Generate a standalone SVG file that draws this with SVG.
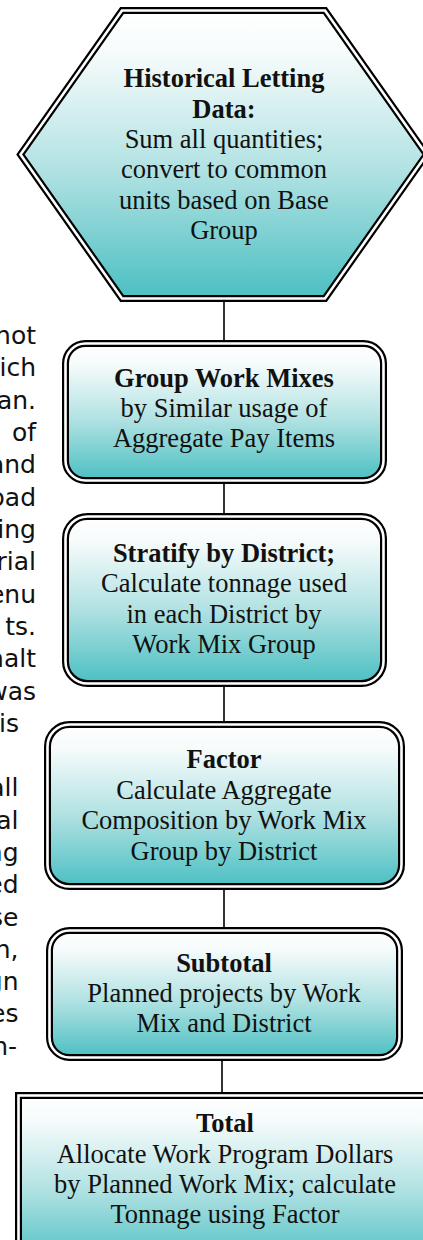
<svg xmlns="http://www.w3.org/2000/svg" width="423" height="1240" viewBox="0 0 423 1240">
<defs>
<linearGradient id="g" x1="0" y1="0" x2="0" y2="1">
<stop offset="0" stop-color="#ffffff"/>
<stop offset="0.15" stop-color="#f6fbfb"/>
<stop offset="0.55" stop-color="#b2e2e3"/>
<stop offset="1" stop-color="#4bbfc2"/>
</linearGradient>
<style>
.shape{fill:url(#g);stroke:#000;stroke-width:7}
.gap{fill:none;stroke:#fff;stroke-width:2.6}
.t{font-family:"Liberation Serif","Times New Roman",serif;font-size:26.5px;fill:#111;text-anchor:middle}
.b{font-weight:bold}
.side{font-family:"DejaVu Sans",Verdana,sans-serif;font-size:25px;fill:#111;text-anchor:end}
.conn{stroke:#000;stroke-width:1.6;fill:none}
</style>
</defs>
<rect width="423" height="1240" fill="#fff"/>
<g id="side-text" class="side">
<text x="36" y="344">not</text>
<text x="36" y="376">ich</text>
<text x="36" y="408.5">an.</text>
<text x="36" y="441">of</text>
<text x="36" y="473">and</text>
<text x="36" y="505.5">oad</text>
<text x="36" y="538">ing</text>
<text x="36" y="570">rial</text>
<text x="36" y="602.5">enu</text>
<text x="36" y="635">ts.</text>
<text x="36" y="667">halt</text>
<text x="36" y="699.5">was</text>
<text x="19" y="731.5">is</text>
<text x="18.5" y="796">all</text>
<text x="18.5" y="828.5">al</text>
<text x="18.5" y="861">ng</text>
<text x="18.5" y="893">ed</text>
<text x="18.5" y="925.5">se</text>
<text x="18.5" y="957.5">n,</text>
<text x="18.5" y="990">gn</text>
<text x="18.5" y="1022">es</text>
<text x="17" y="1054.5">n-</text>
</g>
<g id="connectors">
<line class="conn" x1="224" y1="302" x2="224" y2="340"/>
<line class="conn" x1="224" y1="484" x2="224" y2="513"/>
<line class="conn" x1="224" y1="687" x2="224" y2="721"/>
<line class="conn" x1="224" y1="890" x2="224" y2="927"/>
<line class="conn" x1="222" y1="1061" x2="222" y2="1092"/>
</g>
<g id="n1">
<path class="shape" d="M20.5 154.5 L122 10.5 L325 10.5 L426.5 154.5 L325 298.5 L122 298.5 Z"/>
<path class="gap" d="M20.5 154.5 L122 10.5 L325 10.5 L426.5 154.5 L325 298.5 L122 298.5 Z"/>
<text class="t b" x="224" y="87">Historical Letting</text>
<text class="t b" x="224" y="117.5">Data:</text>
<text class="t" x="224" y="148">Sum all quantities;</text>
<text class="t" x="224" y="178">convert to common</text>
<text class="t" x="224" y="208.5">units based on Base</text>
<text class="t" x="224" y="239">Group</text>
</g>
<g id="n2">
<rect class="shape" x="65.5" y="343.5" width="318" height="137" rx="20"/>
<rect class="gap" x="65.5" y="343.5" width="318" height="137" rx="20"/>
<text class="t b" x="224" y="387">Group Work Mixes</text>
<text class="t" x="224" y="417">by Similar usage of</text>
<text class="t" x="224" y="447">Aggregate Pay Items</text>
</g>
<g id="n3">
<rect class="shape" x="65.5" y="516.5" width="318" height="167" rx="22"/>
<rect class="gap" x="65.5" y="516.5" width="318" height="167" rx="22"/>
<text class="t b" x="224" y="562">Stratify by District;</text>
<text class="t" x="224" y="592">Calculate tonnage used</text>
<text class="t" x="224" y="622.5">in each District by</text>
<text class="t" x="224" y="653">Work Mix Group</text>
</g>
<g id="n4">
<rect class="shape" x="47.5" y="724.5" width="354" height="162" rx="22"/>
<rect class="gap" x="47.5" y="724.5" width="354" height="162" rx="22"/>
<text class="t b" x="224" y="768">Factor</text>
<text class="t" x="224" y="798.5">Calculate Aggregate</text>
<text class="t" x="224" y="829">Composition by Work Mix</text>
<text class="t" x="224" y="859.5">Group by District</text>
</g>
<g id="n5">
<rect class="shape" x="49.5" y="930.5" width="350" height="127" rx="20"/>
<rect class="gap" x="49.5" y="930.5" width="350" height="127" rx="20"/>
<text class="t b" x="224" y="972">Subtotal</text>
<text class="t" x="224" y="1002">Planned projects by Work</text>
<text class="t" x="224" y="1032">Mix and District</text>
</g>
<g id="n6">
<rect class="shape" x="18.5" y="1095.5" width="413" height="170"/>
<rect class="gap" x="18.5" y="1095.5" width="413" height="170"/>
<text class="t b" x="225" y="1132">Total</text>
<text class="t" x="225" y="1163">Allocate Work Program Dollars</text>
<text class="t" x="225" y="1193">by Planned Work Mix; calculate</text>
<text class="t" x="225" y="1223">Tonnage using Factor</text>
</g>
</svg>
